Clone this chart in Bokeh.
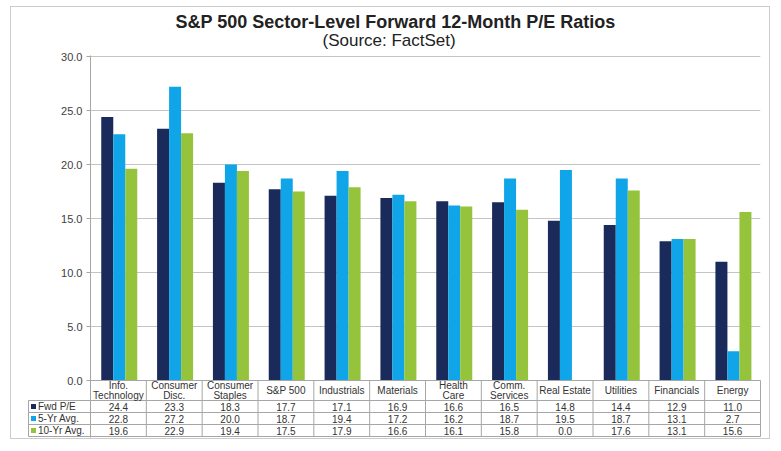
from bokeh.plotting import figure
from bokeh.models import FactorRange, Range1d, FixedTicker, NumeralTickFormatter, Title, ColumnDataSource
from bokeh.transform import dodge
from bokeh.embed import file_html
from bokeh.resources import INLINE
from bokeh.core.properties import value

# ---------------- data ----------------
categories = ["Info. Technology", "Consumer Disc.", "Consumer Staples", "S&P 500", "Industrials",
              "Materials", "Health Care", "Comm. Services", "Real Estate", "Utilities",
              "Financials", "Energy"]
header_labels = ["Info.\nTechnology", "Consumer\nDisc.", "Consumer\nStaples", "S&P 500", "Industrials",
                 "Materials", "Health\nCare", "Comm.\nServices", "Real Estate", "Utilities",
                 "Financials", "Energy"]
fwd_pe = [24.4, 23.3, 18.3, 17.7, 17.1, 16.9, 16.6, 16.5, 14.8, 14.4, 12.9, 11.0]
avg_5yr = [22.8, 27.2, 20.0, 18.7, 19.4, 17.2, 16.2, 18.7, 19.5, 18.7, 13.1, 2.7]
avg_10yr = [19.6, 22.9, 19.4, 17.5, 17.9, 16.6, 16.1, 15.8, 0.0, 17.6, 13.1, 15.6]
series_names = ["Fwd P/E", "5-Yr Avg.", "10-Yr Avg."]
y_ticks = [0, 5, 10, 15, 20, 25, 30]

# ---------------- geometry ----------------
FONT = "Liberation Sans"
COLORS = ["#1a2a5a", "#0fa5e8", "#95c43c"]
TXT = "#333333"
LINE = "#a6a6a6"
n = len(categories)
FRAME_W = 670
CAT_PX = FRAME_W / n            # pixels per category
PX = 324 / 30.0                 # pixels per P/E unit
LEFT_COL = 62 / CAT_PX          # legend column width (category units)

def dy(px):                     # table offsets (px below the 0 line) -> data units
    return -px / PX

p = figure(x_range=FactorRange(factors=categories, range_padding=0, factor_padding=0),
           y_range=Range1d(dy(57), 30 + 1 / PX),
           width=760, height=433, output_backend="svg", toolbar_location=None,
           x_axis_location=None,
           min_border_left=79, min_border_right=11, min_border_top=48, min_border_bottom=3,
           styles={"border": "1px solid #cccccc", "margin-left": "10px", "margin-top": "6px"})
p.outline_line_color = None
p.xgrid.visible = False
p.ygrid.ticker = FixedTicker(ticks=y_ticks)
p.ygrid.grid_line_color = "#c4c4c4"
ax = p.yaxis[0]
ax.ticker = FixedTicker(ticks=y_ticks)
ax.formatter = NumeralTickFormatter(format="0.0")
ax.major_label_text_font = FONT
ax.major_label_text_font_size = "11px"
ax.major_label_text_color = "#404040"
ax.axis_line_color = LINE
ax.major_tick_line_color = LINE
ax.major_tick_out = 4
ax.major_tick_in = 0
ax.minor_tick_line_color = None
ax.major_label_standoff = 4

p.add_layout(Title(text="(Source: FactSet)", align="left", offset=232, text_font=FONT,
                   text_font_size="17px", text_font_style="normal", text_color="#222222",
                   standoff=12), "above")
p.add_layout(Title(text="S&P 500 Sector-Level Forward 12-Month P/E Ratios", align="left",
                   offset=85, text_font=FONT, text_font_size="18px", text_font_style="bold",
                   text_color="#222222", standoff=-18), "above")

# ---------------- bars ----------------
src = ColumnDataSource(dict(cat=categories, fwd=fwd_pe, y5=avg_5yr, y10=avg_10yr))
bw = 12 / CAT_PX
for col, off, c in zip(["fwd", "y5", "y10"], [-bw, 0, bw], COLORS):
    p.vbar(x=dodge("cat", off + 0.015, range=p.x_range), top=col, width=bw, source=src,
           fill_color=c, line_color=None)

# ---------------- data table under the chart ----------------
row_px = [0, 20, 32, 44, 56]
hx0 = [0] + [-LEFT_COL] * 4
hx1 = [n] * 5
hy = [dy(v) for v in row_px]
p.segment(x0=hx0, y0=hy, x1=hx1, y1=hy, line_color=LINE, line_width=1, level="overlay")
vx = list(range(n + 1)) + [-LEFT_COL]
vy0 = [dy(0)] * (n + 1) + [dy(20)]
vy1 = [dy(56)] * (n + 2)
p.segment(x0=vx, y0=vy0, x1=vx, y1=vy1, line_color=LINE, line_width=1, level="overlay")

centers = [i + 0.5 for i in range(n)]
p.text(x=centers, y=[dy(10)] * n, text=header_labels, text_font=value(FONT),
       text_font_size="10px", text_align="center", text_baseline="middle", text_color=TXT,
       text_line_height=0.9, level="overlay")
for k, vals in enumerate([fwd_pe, avg_5yr, avg_10yr]):
    yy = dy(26 + 12 * k)
    p.text(x=centers, y=[yy] * n, text=["%.1f" % v for v in vals], text_font=value(FONT),
           text_font_size="10px", text_align="center", text_baseline="middle",
           text_color=TXT, level="overlay")
    # legend key: small coloured square (a short thick stroke, not clipped outside the frame)
    p.segment(x0=[-LEFT_COL + 2.5 / CAT_PX], y0=[yy], x1=[-LEFT_COL + 7.5 / CAT_PX], y1=[yy],
              line_color=COLORS[k], line_width=5, line_cap="butt", level="overlay")
    p.text(x=[-LEFT_COL + 9.5 / CAT_PX], y=[yy], text=[series_names[k]], text_font=value(FONT),
           text_font_size="10px", text_align="left", text_baseline="middle", text_color=TXT,
           level="overlay")

with open("out.html", "w") as f:
    f.write(file_html(p, INLINE))
